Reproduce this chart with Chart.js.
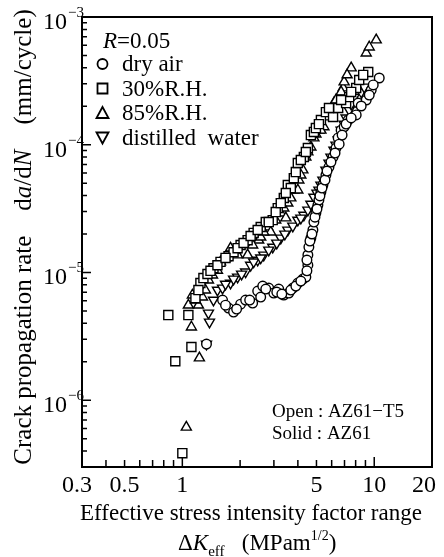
<!DOCTYPE html>
<html>
<head>
<meta charset="utf-8">
<script src="https://cdn.jsdelivr.net/npm/chart.js@4.4.0/dist/chart.umd.min.js"></script>
<style>
  html, body { margin: 0; padding: 0; background: #fff; }
  canvas { display: block; }
</style>
</head>
<body>
<canvas id="grafica" width="444" height="557"></canvas>
<script>
const SERIF = '"Liberation Serif", "Times New Roman", serif';

// dry air (circulos)
const aireK = [1.336, 1.620, 1.741, 1.849, 2.012, 2.137, 2.325, 2.470, 2.561, 2.624, 2.820, 2.994, 3.181, 3.379, 3.588, 3.764, 3.998, 4.246, 4.402, 4.510, 4.510, 4.565, 4.676, 4.790, 4.848, 4.966, 5.087, 5.149, 5.274, 5.402, 5.601, 5.81, 6.10, 6.32, 6.486, 6.720, 6.967, 7.315, 8.054, 8.249, 9.084, 9.646, 10.62,
  1.679, 1.918, 2.243, 2.721, 3.105, 3.299, 3.675, 3.903, 4.145, 4.459, 4.459, 4.623, 4.733, 4.910, 5.030, 5.211, 5.342, 5.539, 5.675, 5.949, 6.249, 6.565, 6.800, 7.136, 7.584, 8.553, 9.418, 9.880];
const aireDadN = [2.75e-6, 6.08e-6, 5.26e-6, 4.90e-6, 5.65e-6, 6.08e-6, 5.76e-6, 7.15e-6, 6.42e-6, 7.82e-6, 7.55e-6, 6.90e-6, 7.41e-6, 6.65e-6, 6.90e-6, 7.55e-6, 8.26e-6, 8.88e-6, 9.21e-6, 1.14e-5, 1.37e-5, 1.58e-5, 1.86e-5, 2.15e-5, 2.48e-5, 2.92e-5, 3.37e-5, 3.69e-5, 4.26e-5, 4.84e-5, 5.79e-5, 6.69e-5, 8.01e-5, 9.42e-5, 1.13e-4, 1.30e-4, 1.38e-4, 1.56e-4, 1.71e-4, 2.12e-4, 2.24e-4, 2.68e-4, 3.33e-4,
  5.55e-6, 5.17e-6, 6.08e-6, 7.41e-6, 7.02e-6, 6.77e-6, 7.28e-6, 7.82e-6, 8.56e-6, 1.03e-5, 1.25e-5, 1.76e-5, 2.00e-5, 2.71e-5, 3.14e-5, 3.97e-5, 4.58e-5, 5.29e-5, 6.22e-5, 7.32e-5, 8.61e-5, 1.01e-4, 1.19e-4, 1.45e-4, 1.62e-4, 2.01e-4, 2.45e-4, 2.94e-4];

// 30%R.H. (cuadrados)
const rh30K = [0.845, 1.075, 0.919, 1.115, 1.00, 1.170, 1.242, 1.288, 1.352, 1.453, 1.581, 1.741, 1.849, 2.012, 2.189, 2.353, 2.561, 2.721, 2.958, 3.142, 3.379, 3.545, 3.675, 3.810, 3.903, 3.998, 4.298, 4.510, 4.676, 4.848, 5.274, 5.601, 6.10, 6.486, 7.136, 7.404, 8.054, 8.348, 9.304,
  1.213, 1.402, 1.524, 1.679, 1.941, 2.085, 2.269, 2.470, 2.820, 3.067, 3.258, 3.461, 4.145, 4.402, 4.966, 5.149, 5.81, 6.720, 7.584, 8.760];
const rh30DadN = [4.64e-6, 4.64e-6, 2.02e-6, 2.61e-6, 3.85e-7, 6.30e-6, 8.26e-6, 9.04e-6, 9.72e-6, 1.08e-5, 1.21e-5, 1.34e-5, 1.44e-5, 1.64e-5, 1.79e-5, 2.04e-5, 2.27e-5, 2.48e-5, 2.57e-5, 3.19e-5, 3.83e-5, 4.84e-5, 4.58e-5, 5.48e-5, 6.11e-5, 7.19e-5, 8.01e-5, 9.42e-5, 1.19e-4, 1.26e-4, 1.56e-4, 1.80e-4, 1.65e-4, 1.94e-4, 2.12e-4, 2.36e-4, 2.78e-4, 3.21e-4, 3.71e-4,
  7.28e-6, 1.03e-5, 1.14e-5, 1.30e-5, 1.55e-5, 1.70e-5, 1.93e-5, 2.15e-5, 2.48e-5, 2.97e-5, 3.49e-5, 4.19e-5, 7.59e-5, 8.77e-5, 1.35e-4, 1.45e-4, 1.94e-4, 2.24e-4, 2.59e-4, 3.52e-4];

// 85%R.H. (triangulos)
const rh85K = [1.115, 1.227, 1.049, 1.075, 1.213, 1.128, 1.273, 1.319, 1.368, 1.524, 1.581, 1.783, 1.941, 2.137, 2.189, 2.500, 2.561, 2.786, 2.888, 3.258, 3.461, 3.545, 3.810, 3.998, 4.047, 4.246, 4.402, 4.676, 4.848, 5.149, 5.468, 5.737, 5.949, 6.168, 6.565, 6.883, 6.967, 7.584, 9.084, 9.418, 10.24,
  1.170, 1.436, 1.679, 1.894, 2.325, 2.656, 3.067, 3.379, 3.675, 4.145, 4.510, 4.966, 5.274, 6.32, 6.720, 7.222];
const rh85DadN = [3.74e-6, 2.14e-6, 6.15e-7, 5.55e-6, 5.55e-6, 6.65e-6, 6.42e-6, 7.28e-6, 8.72e-6, 1.04e-5, 1.21e-5, 1.55e-5, 1.37e-5, 1.70e-5, 1.37e-5, 1.79e-5, 1.89e-5, 2.27e-5, 2.07e-5, 2.92e-5, 2.67e-5, 3.49e-5, 4.42e-5, 4.42e-5, 5.29e-5, 6.34e-5, 8.01e-5, 9.59e-5, 1.13e-4, 1.30e-4, 1.38e-4, 1.65e-4, 1.87e-4, 2.12e-4, 2.36e-4, 2.78e-4, 3.10e-4, 3.99e-4, 5.22e-4, 5.82e-4, 6.61e-4,
  6.08e-6, 9.55e-6, 1.30e-5, 1.50e-5, 1.64e-5, 2.07e-5, 2.57e-5, 3.19e-5, 3.83e-5, 5.79e-5, 8.77e-5, 1.21e-4, 1.30e-4, 2.24e-4, 2.59e-4, 3.52e-4];

// distilled water (triangulos invertidos)
const aguaK = [1.336, 1.368, 1.385, 1.453, 1.524, 1.620, 1.783, 1.941, 2.137, 2.269, 2.470, 2.656, 2.958, 3.258, 3.545, 3.764, 3.998, 4.298, 4.510, 4.848, 5.149, 5.402, 5.601, 5.949, 6.168, 6.486, 6.720, 7.136, 7.404, 7.864, 8.553, 8.869,
  1.679, 1.849, 2.036, 2.353, 2.561, 2.820, 3.105, 3.420, 4.145, 4.676, 5.030, 5.274, 5.81, 6.32, 6.967, 7.584];
const aguaDadN = [2.75e-6, 4.81e-6, 4.09e-6, 6.08e-6, 7.28e-6, 7.55e-6, 8.26e-6, 9.21e-6, 1.01e-5, 1.14e-5, 1.25e-5, 1.37e-5, 1.58e-5, 1.86e-5, 2.15e-5, 2.31e-5, 2.57e-5, 2.81e-5, 3.08e-5, 3.89e-5, 4.42e-5, 5.29e-5, 6.34e-5, 8.01e-5, 9.08e-5, 1.09e-4, 1.30e-4, 1.62e-4, 1.87e-4, 2.36e-4, 2.59e-4, 2.83e-4,
  8.11e-6, 8.88e-6, 9.72e-6, 1.21e-5, 1.30e-5, 1.50e-5, 1.70e-5, 2.00e-5, 2.67e-5, 3.43e-5, 4.19e-5, 4.84e-5, 7.19e-5, 9.95e-5, 1.45e-4, 2.08e-4];

// ejes
const xEtiquetas = [0.3, 0.5, 1, 5, 10, 20];
const xMenores = [0.4, 0.5, 0.6, 0.7, 0.8, 0.9, 2, 3, 4, 5, 6, 7, 8, 9];
const xMayores = [1, 10];
const yDecadas = [-3, -4, -5, -6];
const yMenores = [];
[-7, -6, -5, -4].forEach(e => {
  for (let m = 2; m <= 9; m++) {
    const v = m * Math.pow(10, e);
    if (v > 3.01e-7 && v < 1e-3) yMenores.push(v);
  }
});

const leyenda = [
  { texto: "dry air", estilo: "circle" },
  { texto: "30%R.H.", estilo: "rect" },
  { texto: "85%R.H.", estilo: "tri" },
  { texto: "distilled  water", estilo: "triInv" }
];

function serie(label, xs, ys, estilo, radio, rot) {
  return {
    label,
    data: xs.map((v, i) => ({ x: v, y: ys[i] })),
    pointStyle: estilo,
    pointRadius: radio,
    pointRotation: rot || 0,
    pointBackgroundColor: "#fff",
    pointBorderColor: "#000",
    pointBorderWidth: 1.4,
    pointHoverRadius: radio,
    showLine: false
  };
}

function anchoTramos(ctx, tramos) {
  let w = 0;
  tramos.forEach(t => { ctx.font = t.font; w += ctx.measureText(t.t).width; });
  return w;
}

function dibujarTramos(ctx, tramos, x, y) {
  tramos.forEach(t => {
    ctx.font = t.font;
    ctx.fillText(t.t, x, y + (t.dy || 0));
    x += ctx.measureText(t.t).width;
  });
}

const decoracion = {
  id: "decoracion",
  afterDatasetsDraw(chart) {
    const { ctx, chartArea: a, scales: { x, y } } = chart;
    ctx.save();
    ctx.strokeStyle = "#000";
    ctx.fillStyle = "#000";

    // marco
    ctx.lineWidth = 2;
    ctx.strokeRect(a.left, a.top, a.right - a.left, a.bottom - a.top);

    // marcas
    ctx.lineWidth = 1.5;
    ctx.beginPath();
    yMenores.forEach(v => {
      const py = y.getPixelForValue(v);
      ctx.moveTo(a.left, py); ctx.lineTo(a.left + 5, py);
    });
    yDecadas.forEach(e => {
      const py = y.getPixelForValue(Math.pow(10, e));
      ctx.moveTo(a.left, py); ctx.lineTo(a.left + 9, py);
    });
    xMenores.forEach(v => {
      const px = x.getPixelForValue(v);
      ctx.moveTo(px, a.bottom); ctx.lineTo(px, a.bottom - 7);
    });
    xMayores.forEach(v => {
      const px = x.getPixelForValue(v);
      ctx.moveTo(px, a.bottom); ctx.lineTo(px, a.bottom - 10);
    });
    ctx.stroke();

    // etiquetas eje y
    yDecadas.forEach(e => {
      const py = y.getPixelForValue(Math.pow(10, e));
      ctx.textAlign = "right";
      ctx.font = "24px " + SERIF;
      ctx.fillText("10", 67, py + 12);
      ctx.textAlign = "left";
      ctx.font = "15px " + SERIF;
      ctx.fillText("\u2212" + Math.abs(e), 68, py);
    });

    // etiquetas eje x
    ctx.textAlign = "center";
    ctx.font = "24px " + SERIF;
    xEtiquetas.forEach(v => {
      let px = x.getPixelForValue(v);
      if (v === 0.3) px -= 5;
      if (v === 20) px -= 8;
      ctx.fillText(String(v), px, 492);
    });

    // titulo eje x
    ctx.font = "23px " + SERIF;
    ctx.fillText("Effective stress intensity factor range", 251, 520);
    ctx.textAlign = "left";
    dibujarTramos(ctx, [
      { t: "\u0394", font: "23px " + SERIF },
      { t: "K", font: "italic 23px " + SERIF },
      { t: "eff", font: "15px " + SERIF, dy: 6 },
      { t: "   (MPam", font: "23px " + SERIF },
      { t: "1/2", font: "14px " + SERIF, dy: -10 },
      { t: ")", font: "23px " + SERIF }
    ], 178, 550);

    // titulo eje y
    const tramosY = [
      { t: "Crack propagation rate    d", font: "25px " + SERIF },
      { t: "a", font: "italic 25px " + SERIF },
      { t: "/d", font: "25px " + SERIF },
      { t: "N", font: "italic 25px " + SERIF },
      { t: "    (mm/cycle)", font: "25px " + SERIF }
    ];
    const wy = anchoTramos(ctx, tramosY);
    ctx.save();
    ctx.translate(31, 237);
    ctx.rotate(-Math.PI / 2);
    dibujarTramos(ctx, tramosY, -wy / 2, 0);
    ctx.restore();

    // leyenda
    dibujarTramos(ctx, [
      { t: "R", font: "italic 23px " + SERIF },
      { t: "=0.05", font: "23px " + SERIF }
    ], 103, 48);
    ctx.font = "23px " + SERIF;
    ctx.lineWidth = 1.8;
    leyenda.forEach((item, i) => {
      const cy = 64 + i * 24.5;
      const cx = 102.5;
      ctx.beginPath();
      if (item.estilo === "circle") {
        ctx.arc(cx, cy, 5, 0, Math.PI * 2);
      } else if (item.estilo === "rect") {
        ctx.rect(cx - 5, cy - 5, 10, 10);
      } else if (item.estilo === "tri") {
        ctx.moveTo(cx, cy - 6); ctx.lineTo(cx + 6, cy + 5); ctx.lineTo(cx - 6, cy + 5); ctx.closePath();
      } else {
        ctx.moveTo(cx, cy + 6); ctx.lineTo(cx + 6, cy - 5); ctx.lineTo(cx - 6, cy - 5); ctx.closePath();
      }
      ctx.stroke();
      ctx.fillText(item.texto, 122, cy + 7);
    });

    // nota material
    ctx.font = "19px " + SERIF;
    ctx.fillText("Open : AZ61\u2212T5", 272, 417);
    ctx.fillText("Solid : AZ61", 272, 439);

    ctx.restore();
  }
};

new Chart(document.getElementById("grafica"), {
  type: "scatter",
  data: {
    datasets: [
      serie("dry air", aireK, aireDadN, "circle", 4.8),
      serie("30%R.H.", rh30K, rh30DadN, "rect", 6.4),
      serie("85%R.H.", rh85K, rh85DadN, "triangle", 5.8),
      serie("distilled water", aguaK, aguaDadN, "triangle", 5.8, 180)
    ]
  },
  options: {
    responsive: false,
    animation: false,
    layout: { padding: { left: 82, top: 17, right: 12, bottom: 90 } },
    plugins: { legend: { display: false }, tooltip: { enabled: false } },
    scales: {
      x: {
        type: "logarithmic",
        min: 0.3,
        max: 20,
        grid: { display: false, drawTicks: false },
        border: { display: false },
        ticks: { display: false },
        afterFit: s => { s.height = 0; }
      },
      y: {
        type: "logarithmic",
        min: 3e-7,
        max: 1e-3,
        grid: { display: false, drawTicks: false },
        border: { display: false },
        ticks: { display: false },
        afterFit: s => { s.width = 0; }
      }
    }
  },
  plugins: [decoracion]
});
</script>
</body>
</html>
